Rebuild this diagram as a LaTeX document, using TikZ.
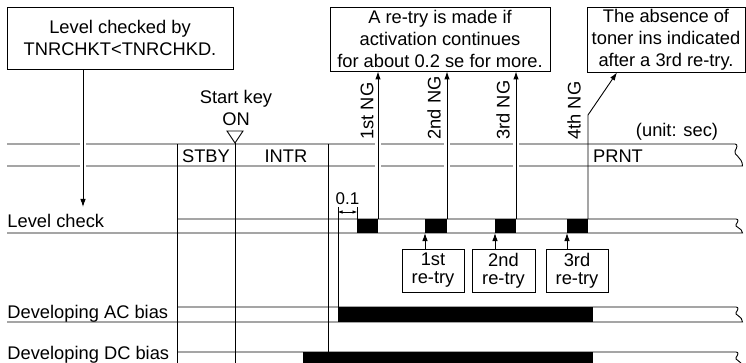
\documentclass[tikz,border=0pt]{standalone}
\usepackage{fontspec}
\setmainfont{Liberation Sans}
\usetikzlibrary{arrows.meta}
\begin{document}
\begin{tikzpicture}[x=1pt,y=-1pt,line width=0.9pt,
  every node/.style={font=\fontsize{18.3}{22}\selectfont, inner sep=0pt},
  note/.style={draw, align=center},
  retry/.style={draw, align=center, font=\fontsize{18.3}{18}\selectfont},
  ng/.style={rotate=90, anchor=west},
  arr/.style={-{Latex[length=8pt,width=5.5pt]}},
  dim/.style={{Latex[length=4.5pt,width=3.5pt]}-{Latex[length=4.5pt,width=3.5pt]}, line width=0.6pt},
  gap/.style={draw=white, line width=6pt},
  pulse/.style={fill=black}]
\useasboundingbox (0,0) rectangle (746,363);

% ---- notes on top
\node[note, minimum width=226pt, minimum height=62pt] (boxL) at (120,38) {Level checked by\\TNRCHKT<TNRCHKD.};
\node[note, minimum width=220pt, minimum height=64pt] (boxM) at (440,39) {A re-try is made if\\activation continues\\for about 0.2 se for more.};
\node[note, minimum width=158pt, minimum height=65pt] (boxR) at (666,39.5) {The absence of\\toner ins indicated\\after a 3rd re-try.};

% ---- state bar
\draw (7,144) -- (735,144) .. controls (738,144) and (737,148) .. (735,151)
      .. controls (733,155) and (742.5,157) .. (742.5,166) -- (7,166);
\node (stby) at (206,156) {STBY};
\node (intr) at (286,156) {INTR};
\node (prnt) at (618,156) {PRNT};
\node (unit) at (677,132) {(unit: sec)};
\node[align=center] (start) at (236,107.5) {Start key\\ON};
\draw (227,131) -- (243,131) -- (235,143) -- cycle;

% ---- signal rows
\draw (177,219) -- (736,219) .. controls (739,219) and (738,222) .. (736,224.5)
      .. controls (734,227) and (742.5,228) .. (742.5,233) -- (7,233);
\draw (177,307) -- (736,307) .. controls (739,307) and (738,310) .. (736,312.5)
      .. controls (734,315) and (742.5,316) .. (742.5,322) -- (7,322);
\draw (177,352) -- (736,352) .. controls (739,352) and (738,355) .. (736,357.5)
      .. controls (734,360) and (742.5,361) .. (742.5,367) -- (7,367);
\node[anchor=base west] (lvl) at (7,228) {Level check};
\node[anchor=base west] (ac) at (7,318.5) {Developing AC bias};
\node[anchor=base west] (dc) at (7,359.5) {Developing DC bias};

% pulses
\coordinate (p1s) at (357,219); \coordinate (p1e) at (378,233);
\coordinate (p2s) at (425,219); \coordinate (p2e) at (447,233);
\coordinate (p3s) at (495,219); \coordinate (p3e) at (516,233);
\coordinate (p4s) at (567,219); \coordinate (p4e) at (588,233);
\fill[pulse] (p1s) rectangle (p1e);
\fill[pulse] (p2s) rectangle (p2e);
\fill[pulse] (p3s) rectangle (p3e);
\fill[pulse] (p4s) rectangle (p4e);
\fill[pulse] (338,307) rectangle (593,322);
\fill[pulse] (303,352) rectangle (593,367);

% ---- vertical timing lines
\draw (177,144) -- (177,370);
\draw (235,143) -- (235,370);
\draw (328,144) -- (328,352);
\draw (338,207) -- (338,322);
\draw (357,207) -- (p1s);
\draw[dim] (338,212) -- (357,212);
\node[font=\fontsize{17}{20}\selectfont] (d01) at (347.5,199) {0.1};

% gaps in the state bar
\path[gap] (83,140) -- (83,170);
\path[gap] (378,140) -- (378,170);
\path[gap] (447,140) -- (447,170);
\path[gap] (516,140) -- (516,170);

% level-check note arrow
\coordinate (lc) at (83,207);
\draw[arr] (lc |- boxL.south) -- (lc);

% NG arrows
\coordinate (ng1) at (378,219);
\coordinate (ng2) at (447,219);
\coordinate (ng3) at (516,219);
\coordinate (ng4) at (588,219);
\draw[arr] (ng1) -- (ng1 |- boxM.south);
\draw[arr] (ng2) -- (ng2 |- boxM.south);
\draw[arr] (ng3) -- (ng3 |- boxM.south);
\coordinate (bend) at (588,115);
\coordinate (tip4) at (617,0);
\draw[arr] (ng4) -- (bend) -- (tip4 |- boxR.south);
\node[ng] (l1) at (367,140) {1st NG};
\node[ng] (l2) at (434,140) {2nd NG};
\node[ng] (l3) at (503,140) {3rd NG};
\node[ng] (l4) at (574,140) {4th NG};

% re-try boxes
\node[retry, minimum width=62pt, minimum height=43pt] (r1) at (433,270.5) {1st\\re-try};
\node[retry, minimum width=63pt, minimum height=43pt] (r2) at (503.5,270.5) {2nd\\re-try};
\node[retry, minimum width=62pt, minimum height=43pt] (r3) at (577,270.5) {3rd\\re-try};
\draw[arr] (r1.north -| p2s) -- (p2s |- p2e);
\draw[arr] (r2.north -| p3s) -- (p3s |- p3e);
\draw[arr] (r3.north -| p4s) -- (p4s |- p4e);
\end{tikzpicture}
\end{document}
